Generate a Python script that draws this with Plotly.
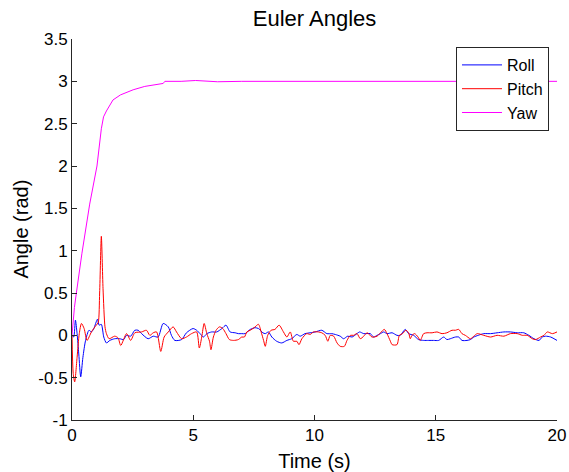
import plotly.graph_objects as go

# ---- data ----
roll_t = [0, 0.07, 0.14, 0.21, 0.28, 0.36, 0.45, 0.56, 0.70, 0.80, 0.90, 1.05, 1.12, 1.21, 1.31, 1.42,
          1.56, 1.76, 1.97, 2.13, 2.25, 2.42, 2.59, 2.73, 2.87, 3.14, 3.35, 3.55, 3.76, 3.97, 4.10, 4.24,
          4.52, 4.72, 4.99, 5.14, 5.28, 5.42, 5.56, 5.76, 5.97, 6.18, 6.35, 6.52, 6.73, 6.86, 7.00, 7.14,
          7.35, 7.55, 7.69, 7.87, 7.97, 8.10, 8.24, 8.44, 8.65, 8.86, 9.06, 9.27, 9.41, 9.61, 9.82, 10.03,
          10.30, 10.51, 10.71, 10.86, 11.06, 11.20, 11.37, 11.55, 11.75, 11.86, 12.03, 12.30, 12.44, 12.58,
          12.72, 12.85, 12.99, 13.20, 13.40, 13.54, 13.74, 13.88, 14.09, 14.29, 14.50, 14.71, 14.91, 15.12,
          15.33, 15.46, 15.60, 15.81, 15.95, 16.08, 16.29, 16.43, 16.57, 16.75, 16.98, 17.26, 17.53, 17.81,
          18.08, 18.36, 18.63, 18.84, 19.05, 19.26, 19.39, 19.53, 19.74, 20.0]
roll_v = [0, -0.02, 0.18, 0.02, -0.22, -0.49, -0.26, -0.06, 0.06, 0.04, 0.08, 0.19, 0.12, 0.13, -0.02, -0.09,
          -0.06, -0.04, -0.04, -0.05, 0.0, -0.01, 0.06, 0.06, 0.02, -0.04, -0.01, -0.02, 0.14, 0.10, 0.0, -0.06,
          -0.05, 0.03, 0.08, 0.06, 0.02, -0.02, 0.02, 0.04, 0.04, 0.08, 0.12, 0.04, 0.03, 0.02, 0.02, 0.02,
          0.07, 0.09, 0.08, 0.03, 0.02, 0.04, -0.02, -0.07, -0.09, -0.06, -0.04, 0.01, -0.01, 0.02, 0.03, 0.04,
          0.06, 0.02, 0.02, 0.01, -0.01, -0.04, -0.01, -0.02, 0.02, 0.04, 0.02, 0.02, -0.02, 0.0,
          0.02, 0.04, 0.02, 0.03, 0.0, 0.0, 0.07, 0.02, 0.0, -0.05, -0.06, -0.06, -0.06, -0.06,
          -0.02, -0.05, -0.04, -0.02, -0.02, -0.06, -0.06, -0.05, -0.02, 0.0, 0.02, 0.02, 0.03, 0.04,
          0.04, 0.03, 0.03, 0.0, -0.04, -0.06, -0.02, -0.01, -0.02, -0.06]

pitch_t = [0, 0.05, 0.11, 0.21, 0.30, 0.39, 0.50, 0.62, 0.80, 1.00, 1.08, 1.14, 1.21, 1.28, 1.36, 1.42, 1.53,
           1.76, 1.90, 2.01, 2.25, 2.42, 2.59, 2.87, 3.07, 3.21, 3.35, 3.49, 3.66, 3.80, 3.97, 4.17, 4.31,
           4.52, 4.72, 4.93, 5.14, 5.25, 5.35, 5.45, 5.56, 5.67, 5.73, 5.83, 5.94, 6.08, 6.22, 6.35, 6.49,
           6.66, 6.86, 7.00, 7.11, 7.21, 7.35, 7.51, 7.69, 7.80, 7.90, 7.97, 8.07, 8.21, 8.37, 8.54, 8.72,
           8.86, 9.00, 9.13, 9.27, 9.36, 9.48, 9.68, 9.82, 9.96, 10.16, 10.30, 10.44, 10.55, 10.65, 10.79,
           10.93, 11.06, 11.23, 11.34, 11.48, 11.61, 11.75, 11.89, 12.03, 12.17, 12.37, 12.58, 12.72, 12.88,
           12.99, 13.13, 13.20, 13.40, 13.50, 13.63, 13.77, 13.88, 13.95, 14.02, 14.13, 14.27, 14.36, 14.50,
           14.64, 14.85, 15.05, 15.26, 15.46, 15.67, 15.81, 15.95, 16.08, 16.22, 16.43, 16.57, 16.71, 16.98,
           17.26, 17.53, 17.81, 18.08, 18.36, 18.57, 18.77, 18.98, 19.12, 19.32, 19.46, 19.60, 19.81, 20.0]
pitch_v = [0, -0.45, -0.55, -0.26, 0.02, 0.14, 0.08, -0.06, 0.04, 0.12, 0.15, 0.5, 1.17, 0.55, 0.1, 0.02, -0.04,
           -0.01, -0.03, -0.12, 0.02, -0.06, 0.03, 0.04, 0.06, 0.0, 0.03, 0.04, -0.19, -0.02, 0.04, 0.10, 0.04,
           -0.04, -0.02, 0.02, 0.04, -0.15, -0.02, 0.14, 0.02, -0.07, -0.17, -0.02, 0.06, 0.10, 0.08, 0.02, -0.05,
           -0.06, -0.05, -0.02, -0.02, 0.04, 0.06, 0.09, 0.13, 0.04, -0.06, -0.13, 0.0, 0.06, 0.07, 0.12, 0.04,
           -0.02, 0.04, -0.07, -0.07, -0.11, -0.04, 0.02, 0.01, 0.04, 0.04, 0.03, 0.0, -0.07, 0.0, -0.01,
           -0.09, -0.13, -0.13, -0.06, 0.0, 0.0, 0.02, -0.04, -0.01, 0.03, -0.02, -0.01, 0.03, 0.07,
           0.02, -0.07, -0.11, -0.11, 0.0, 0.02, 0.06, 0.03, -0.04, 0.0, 0.02, -0.02, -0.06, 0.02,
           0.03, 0.03, 0.04, 0.02, 0.03, 0.06, 0.06, 0.07, 0.02, 0.0, -0.04, -0.01, 0.02, 0.0,
           -0.02, 0.0, -0.01, 0.02, 0.02, 0.0, 0.0, -0.04, -0.05, -0.02, 0.0, 0.04, 0.02, 0.04]

yaw_t = [0, 0.05, 0.10, 0.18, 0.41, 0.73, 1.03, 1.21, 1.30, 1.42, 1.69, 2.0, 2.52, 3.0, 3.5, 3.76, 3.83,
         4.5, 5.1, 5.5, 6.0, 7.0, 8.0, 10.0, 12.0, 14.0, 15.0, 17.0, 20.0]
yaw_v = [0.0, 0.2, 0.33, 0.5, 0.97, 1.55, 2.0, 2.44, 2.58, 2.65, 2.78, 2.84, 2.9, 2.94, 2.965, 2.975, 3.0,
         3.0, 3.01, 3.0, 2.995, 3.0, 3.0, 3.0, 3.0, 3.0, 2.995, 3.0, 3.0]

x_ticks = [0, 5, 10, 15, 20]
y_ticks = [-1, -0.5, 0, 0.5, 1, 1.5, 2, 2.5, 3, 3.5]
y_ticktext = ["-1", "-0.5", "0", "0.5", "1", "1.5", "2", "2.5", "3", "3.5"]

FONT = "Liberation Sans, Arial, sans-serif"
AX = "#262626"

fig = go.Figure()
fig.add_trace(go.Scatter(x=roll_t, y=roll_v, mode="lines", name="Roll",
                         line=dict(color="#0000FF", width=1, shape="spline", smoothing=0.7)))
fig.add_trace(go.Scatter(x=pitch_t, y=pitch_v, mode="lines", name="Pitch",
                         line=dict(color="#FF0000", width=1, shape="spline", smoothing=0.7)))
fig.add_trace(go.Scatter(x=yaw_t, y=yaw_v, mode="lines", name="Yaw",
                         line=dict(color="#FF00FF", width=1)))

fig.update_layout(
    width=569, height=472,
    margin=dict(l=72, r=12, t=39, b=52),
    paper_bgcolor="white", plot_bgcolor="white",
    font=dict(family=FONT, size=16, color="black"),
    title=dict(text="Euler Angles", x=0.5, xref="paper", xanchor="center",
               y=0.962, yref="container", yanchor="middle",
               font=dict(size=22, family=FONT, color="black")),
    showlegend=True,
    legend=dict(x=0.9835, y=0.979, xanchor="right", yanchor="top",
                bgcolor="white", bordercolor=AX, borderwidth=1,
                font=dict(size=16, family=FONT, color="black"),
                tracegroupgap=0, itemwidth=40),
    annotations=[dict(text="Angle (rad)", textangle=-90, xref="paper", yref="paper",
                      x=-0.107, y=0.5, xanchor="center", yanchor="middle", showarrow=False,
                      font=dict(size=20, family=FONT, color="black"))],
)
fig.update_xaxes(range=[0, 20], tickvals=x_ticks, ticks="inside", ticklen=5, tickcolor=AX,
                 showline=True, linecolor=AX, linewidth=1, showgrid=False, zeroline=False,
                 mirror=False, automargin=False, tickfont=dict(size=17),
                 title=dict(text="Time (s)", font=dict(size=20)))
fig.update_yaxes(range=[-1, 3.5], tickvals=y_ticks, ticktext=y_ticktext, ticks="inside", ticklen=5,
                 tickcolor=AX, showline=True, linecolor=AX, linewidth=1, showgrid=False, zeroline=False,
                 mirror=False, automargin=False, tickfont=dict(size=17))

fig.write_html("out.html")
